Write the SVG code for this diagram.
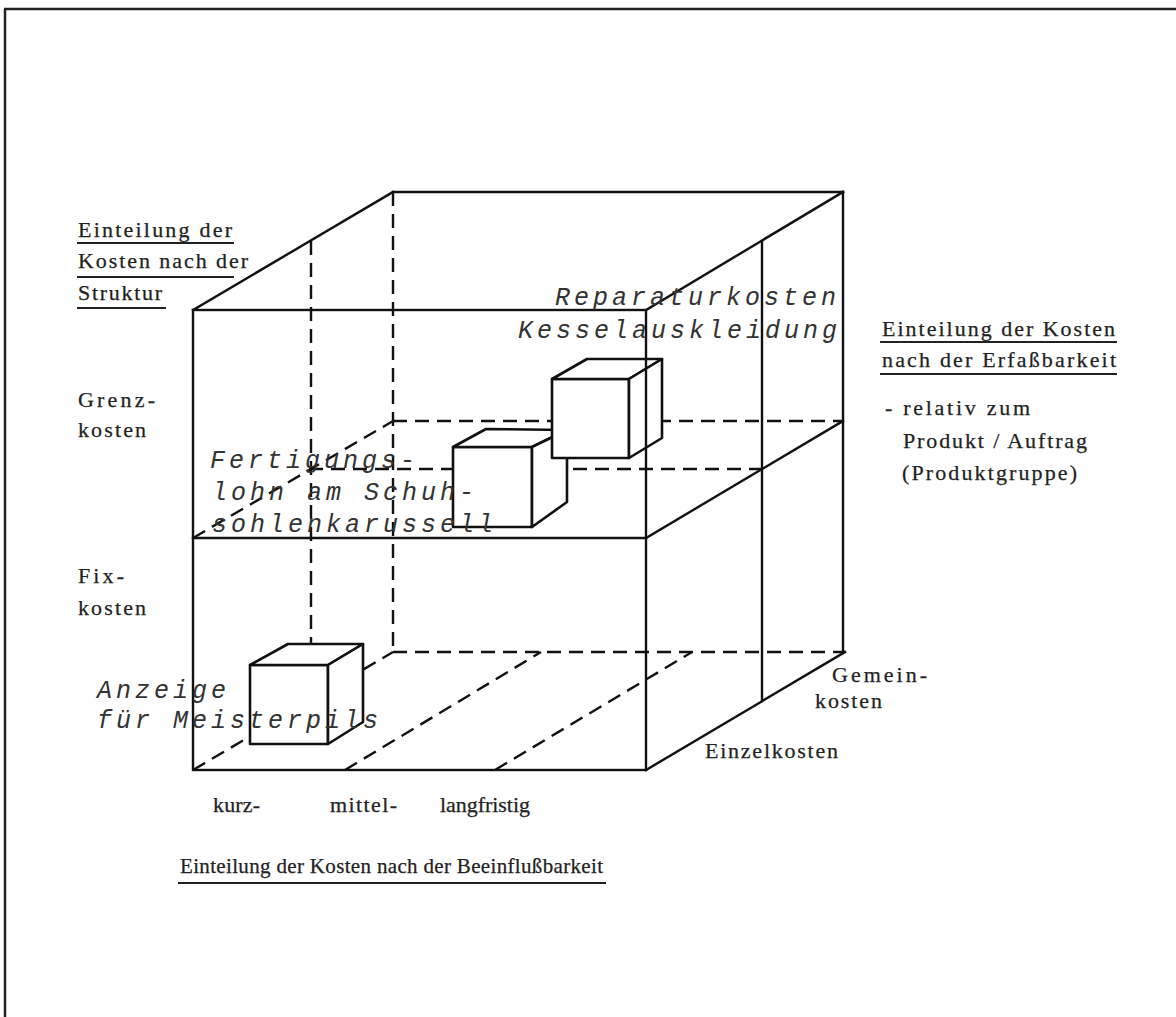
<svg xmlns="http://www.w3.org/2000/svg" width="1176" height="1017" viewBox="0 0 1176 1017">
<style>
.bg{fill:#ffffff}
.frame{stroke:#222;stroke-width:2.5;fill:none}
.solid{stroke:#111;stroke-width:2.4;fill:none;stroke-linecap:square}
.dash{stroke:#111;stroke-width:2.4;fill:none;stroke-dasharray:14 8}
.cube{stroke:#111;stroke-width:2.6;fill:#ffffff;stroke-linejoin:round}
.lbl{font-family:"Liberation Serif","DejaVu Serif",serif;font-size:22px;fill:#222;stroke:#222;stroke-width:0.25}
.tw{font-family:"Liberation Mono","DejaVu Sans Mono",monospace;font-style:italic;font-size:25px;letter-spacing:4px;fill:#333}
.ul{stroke:#222;stroke-width:2;fill:none}
</style>
<rect class="bg" x="0" y="0" width="1176" height="1017"/>
<g id="frame">
<line class="frame" x1="4" y1="9" x2="1176" y2="9"/>
<line class="frame" x1="5" y1="9" x2="5" y2="1017"/>
</g>
<g id="connectors">
<g id="hidden-edges">
<line class="dash" x1="393" y1="192" x2="393" y2="652"/>
<line class="dash" x1="393" y1="652" x2="845" y2="652"/>
<line class="dash" x1="193" y1="770" x2="393" y2="652"/>
<line class="dash" x1="345" y1="770" x2="541" y2="652"/>
<line class="dash" x1="495" y1="770" x2="692" y2="652"/>
<line class="dash" x1="393" y1="421" x2="843" y2="421"/>
<line class="dash" x1="193" y1="538" x2="393" y2="421"/>
<line class="dash" x1="309" y1="469" x2="762" y2="469"/>
<line class="dash" x1="311" y1="241" x2="311" y2="701"/>
</g>
</g>
<g id="cube-anzeige">
<polygon class="cube" points="250,665 328,665 328,744 250,744"/>
<polygon class="cube" points="250,665 288,644 363,644 328,665"/>
<polygon class="cube" points="328,665 363,644 363,722 328,744"/>
</g>
<g id="cube-fertigungslohn">
<polygon class="cube" points="453,447 532,447 532,527 453,527"/>
<polygon class="cube" points="453,447 486,429 567,430 532,447"/>
<polygon class="cube" points="532,447 567,430 567,502 532,527"/>
</g>
<g id="cube-reparatur">
<polygon class="cube" points="552,379 629,379 629,458 552,458"/>
<polygon class="cube" points="552,379 587,359 662,359 629,379"/>
<polygon class="cube" points="629,379 662,359 662,438 629,458"/>
</g>
<g id="big-cube">
<rect class="solid" x="193" y="310" width="453" height="460"/>
<line class="solid" x1="193" y1="538" x2="646" y2="538"/>
<line class="solid" x1="193" y1="310" x2="393" y2="192"/>
<line class="solid" x1="393" y1="192" x2="843" y2="192"/>
<line class="solid" x1="646" y1="310" x2="843" y2="192"/>
<line class="solid" x1="843" y1="192" x2="843" y2="652"/>
<line class="solid" x1="646" y1="770" x2="845" y2="652"/>
<line class="solid" x1="646" y1="538" x2="843" y2="421"/>
<line class="solid" x1="762" y1="241" x2="762" y2="701"/>
</g>
<g id="label-struktur">
<text class="lbl" x="78" y="237" textLength="154">Einteilung der</text>
<text class="lbl" x="78" y="268" textLength="170">Kosten nach der</text>
<text class="lbl" x="78" y="300" textLength="84">Struktur</text>
<line class="ul" x1="77" y1="243" x2="234" y2="243"/>
<line class="ul" x1="77" y1="277" x2="234" y2="277"/>
<line class="ul" x1="77" y1="308" x2="166" y2="308"/>
</g>
<g id="label-grenzkosten">
<text class="lbl" x="78" y="407" textLength="77">Grenz-</text>
<text class="lbl" x="78" y="437" textLength="68">kosten</text>
</g>
<g id="label-fixkosten">
<text class="lbl" x="78" y="583" textLength="46">Fix-</text>
<text class="lbl" x="78" y="615" textLength="68">kosten</text>
</g>
<g id="label-fristen">
<text class="lbl" x="213" y="812" textLength="47">kurz-</text>
<text class="lbl" x="330" y="812" textLength="67">mittel-</text>
<text class="lbl" x="440" y="812" textLength="90">langfristig</text>
</g>
<g id="label-beeinflussbarkeit">
<text class="lbl" x="180" y="873" textLength="423" style="font-size:21px">Einteilung der Kosten nach der Beeinflußbarkeit</text>
<line class="ul" x1="178" y1="883" x2="606" y2="883"/>
</g>
<g id="label-erfassbarkeit">
<text class="lbl" x="882" y="336" textLength="233">Einteilung der Kosten</text>
<line class="ul" x1="880" y1="342" x2="1117" y2="342"/>
<text class="lbl" x="882" y="367" textLength="234">nach der Erfaßbarkeit</text>
<line class="ul" x1="880" y1="374" x2="1117" y2="374"/>
<text class="lbl" x="885" y="415" textLength="145">- relativ zum</text>
<text class="lbl" x="903" y="448" textLength="184">Produkt / Auftrag</text>
<text class="lbl" x="902" y="480" textLength="175">(Produktgruppe)</text>
</g>
<g id="label-gemeinkosten">
<text class="lbl" x="832" y="682" textLength="95">Gemein-</text>
<text class="lbl" x="815" y="708" textLength="67">kosten</text>
</g>
<g id="label-einzelkosten">
<text class="lbl" x="705" y="758" textLength="133">Einzelkosten</text>
</g>
<g id="text-reparatur">
<text class="tw" x="555" y="305">Reparaturkosten</text>
<text class="tw" x="518" y="338">Kesselauskleidung</text>
</g>
<g id="text-fertigungslohn">
<text class="tw" x="210" y="468">Fertigungs-</text>
<text class="tw" x="212" y="500">lohn am Schuh-</text>
<text class="tw" x="212" y="532">sohlenkarussell</text>
</g>
<g id="text-anzeige">
<text class="tw" x="97" y="698">Anzeige</text>
<text class="tw" x="97" y="728">für Meisterpils</text>
</g>
</svg>
